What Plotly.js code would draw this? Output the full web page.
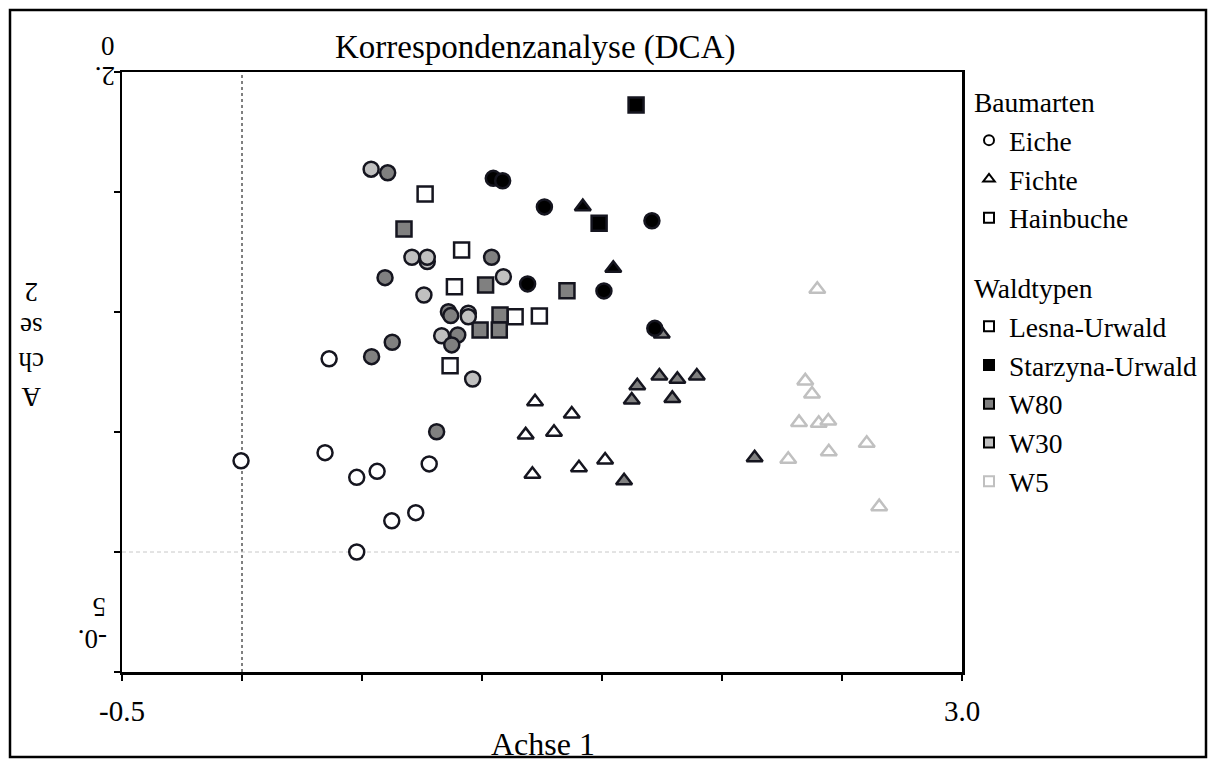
<!DOCTYPE html>
<html>
<head>
<meta charset="utf-8">
<script src="https://cdn.plot.ly/plotly-3.0.1.min.js"></script>
<style>
html,body{margin:0;padding:0;background:#fff;}
#chart{width:1216px;height:767px;}
#chart text{font-family:"Liberation Serif","Times New Roman","DejaVu Serif",serif !important;}
</style>
</head>
<body>
<div id="chart"></div>
<script>
// ---- Data (DCA scores: Achse 1 / Achse 2) ----
// Eiche (circles)
const eicheLesnaX = [-0.004, 0.346, 0.478, 0.563, 0.780, 0.624, 0.724, 0.478, 0.363];
const eicheLesnaY = [0.380, 0.414, 0.311, 0.336, 0.367, 0.130, 0.164, 0.000, 0.805];
const eicheStarzynaX = [1.047, 1.086, 1.260, 1.708, 1.190, 1.508, 1.720];
const eicheStarzynaY = [1.557, 1.547, 1.438, 1.380, 1.117, 1.088, 0.932];
const eicheW80X = [0.607, 1.040, 0.596, 0.860, 0.870, 0.899, 0.874, 0.626, 0.540, 0.811];
const eicheW80Y = [1.580, 1.228, 1.143, 1.001, 0.985, 0.904, 0.863, 0.874, 0.814, 0.501];
const eicheW30X = [0.538, 0.708, 0.772, 0.772, 1.089, 0.758, 0.943, 0.943, 0.832, 0.961];
const eicheW30Y = [1.595, 1.228, 1.210, 1.228, 1.147, 1.071, 0.995, 0.980, 0.901, 0.721];
// Fichte (triangles)
const fichteLesnaX = [1.221, 1.374, 1.182, 1.300, 1.210, 1.404, 1.513];
const fichteLesnaY = [0.626, 0.575, 0.488, 0.499, 0.324, 0.351, 0.383];
const fichteStarzynaX = [1.420, 1.547];
const fichteStarzynaY = [1.439, 1.182];
const fichteW80X = [1.749, 1.647, 1.739, 1.814, 1.895, 1.624, 1.793, 1.592, 2.136];
const fichteW80Y = [0.908, 0.693, 0.733, 0.720, 0.733, 0.633, 0.640, 0.297, 0.393];
const fichteW5X = [2.397, 2.347, 2.375, 2.321, 2.403, 2.443, 2.603, 2.445, 2.276, 2.655];
const fichteW5Y = [1.095, 0.713, 0.658, 0.540, 0.536, 0.546, 0.453, 0.418, 0.386, 0.189];
// Hainbuche (squares)
const hainLesnaX = [0.763, 0.915, 0.885, 1.138, 1.239, 0.867];
const hainLesnaY = [1.492, 1.258, 1.105, 0.980, 0.983, 0.776];
const hainStarzynaX = [1.642, 1.488];
const hainStarzynaY = [1.863, 1.370];
const hainW80X = [0.675, 1.015, 1.354, 1.075, 0.992, 1.072];
const hainW80Y = [1.346, 1.113, 1.089, 0.988, 0.925, 0.925];

// Legend labels / axis ticks
const baumarten = ["Eiche", "Fichte", "Hainbuche"];
const waldtypen = ["Lesna-Urwald", "Starzyna-Urwald", "W80", "W30", "W5"];
const xTickVals = [-0.5, 0, 0.5, 1.0, 1.5, 2.0, 2.5, 3.0];
const xTickText = ["-0.5", "", "", "", "", "", "", "3.0"];
const yTickVals = [-0.5, 0, 0.5, 1.0, 1.5, 2.0];

// ---- Styles ----
const EDGE = "#15151f";
const FILL = {"Lesna-Urwald": "#ffffff", "Starzyna-Urwald": "#000000", "W80": "#808080", "W30": "#c0c0c0", "W5": "#ffffff"};
const LINEC = {"Lesna-Urwald": EDGE, "Starzyna-Urwald": EDGE, "W80": EDGE, "W30": EDGE, "W5": "#c0c0c0"};
const SYM = {"Eiche": "circle", "Fichte": "triangle-up", "Hainbuche": "square"};
const SIZE = {"Eiche": 15, "Fichte": 14, "Hainbuche": 15};
const FONT = "Liberation Serif";

function pts(x, y, art, typ) {
  return {
    type: "scatter", mode: "markers", x: x, y: y, showlegend: false, hoverinfo: "x+y",
    marker: {symbol: SYM[art], size: SIZE[art], color: FILL[typ], line: {color: LINEC[typ], width: 2.5}}
  };
}

const traces = [
  pts(eicheLesnaX, eicheLesnaY, "Eiche", "Lesna-Urwald"),
  pts(fichteLesnaX, fichteLesnaY, "Fichte", "Lesna-Urwald"),
  pts(fichteW5X, fichteW5Y, "Fichte", "W5"),
  pts(fichteW80X, fichteW80Y, "Fichte", "W80"),
  pts(hainLesnaX, hainLesnaY, "Hainbuche", "Lesna-Urwald"),
  pts(hainW80X, hainW80Y, "Hainbuche", "W80"),
  pts(eicheW30X, eicheW30Y, "Eiche", "W30"),
  pts(eicheW80X, eicheW80Y, "Eiche", "W80"),
  pts(eicheStarzynaX, eicheStarzynaY, "Eiche", "Starzyna-Urwald"),
  pts(fichteStarzynaX, fichteStarzynaY, "Fichte", "Starzyna-Urwald"),
  pts(hainStarzynaX, hainStarzynaY, "Hainbuche", "Starzyna-Urwald")
];

// Legend-only entries
baumarten.forEach((b, i) => {
  traces.push({
    type: "scatter", mode: "markers", x: [null], y: [null], name: b, legendgroup: "baum",
    legendgrouptitle: i === 0 ? {text: "Baumarten", font: {family: FONT, size: 27.5, color: "#000"}} : undefined,
    marker: {symbol: SYM[b], size: 10, color: "#ffffff", line: {color: "#000", width: 2}}
  });
});
waldtypen.forEach((w, i) => {
  traces.push({
    type: "scatter", mode: "markers", x: [null], y: [null], name: w, legendgroup: "wald",
    legendgrouptitle: i === 0 ? {text: "Waldtypen", font: {family: FONT, size: 27.5, color: "#000"}} : undefined,
    marker: {symbol: "square", size: 10, color: FILL[w], line: {color: w === "W5" ? "#c0c0c0" : "#000", width: 2}}
  });
});

const L = 122, R = 962, T = 72, B = 672;
const px = v => (v - L) / (R - L);
const py = v => (B - v) / (B - T);

const layout = {
  width: 1216, height: 767,
  margin: {l: L, r: 1216 - R, t: T, b: 767 - B},
  paper_bgcolor: "#fff", plot_bgcolor: "#fff",
  font: {family: FONT, color: "#000", size: 27},
  showlegend: true,
  legend: {
    x: px(969), y: py(77), xanchor: "left", yanchor: "top",
    font: {family: FONT, size: 27.5, color: "#000"},
    traceorder: "grouped", tracegroupgap: 31, itemwidth: 30,
    bgcolor: "rgba(0,0,0,0)", borderwidth: 0
  },
  xaxis: {
    range: [-0.5, 3.0], tickmode: "array", tickvals: xTickVals, ticktext: xTickText,
    ticks: "outside", ticklen: 6, tickwidth: 2, tickcolor: "#000",
    showline: true, linewidth: 2.5, linecolor: "#000", mirror: true,
    showgrid: false, zeroline: false, ticklabelstandoff: 6,
    tickfont: {family: FONT, size: 29, color: "#000"}
  },
  yaxis: {
    range: [-0.5, 2.0], tickmode: "array", tickvals: yTickVals, showticklabels: false,
    ticks: "outside", ticklen: 6, tickwidth: 2, tickcolor: "#000",
    showline: true, linewidth: 2.5, linecolor: "#000", mirror: true,
    showgrid: false, zeroline: false
  },
  shapes: [
    {type: "line", xref: "x", yref: "y", x0: 0, x1: 0, y0: -0.5, y1: 2.0, layer: "below",
     line: {color: "#000", width: 1, dash: "3px,3px"}},
    {type: "line", xref: "x", yref: "y", x0: -0.5, x1: 3.0, y0: 0, y1: 0, layer: "below",
     line: {color: "#c8c8c8", width: 1, dash: "4px,3px"}},
    {type: "rect", xref: "paper", yref: "paper", x0: px(10), x1: px(1206), y0: py(757), y1: py(10),
     line: {color: "#000", width: 2.5}, fillcolor: "rgba(0,0,0,0)"}
  ],
  annotations: [
    {text: "Korrespondenzanalyse (DCA)", xref: "paper", yref: "paper", x: px(535), y: py(48),
     showarrow: false, xanchor: "center", yanchor: "middle", font: {family: FONT, size: 33}},
    {text: "Achse 1", xref: "paper", yref: "paper", x: px(543), y: py(744),
     showarrow: false, xanchor: "center", yanchor: "middle", font: {family: FONT, size: 32}},
    {text: "A<br>ch<br>se<br>2", xref: "paper", yref: "paper", x: px(31), y: py(345), textangle: 180,
     showarrow: false, xanchor: "center", yanchor: "middle", font: {family: FONT, size: 27}},
    {text: "0", xref: "paper", yref: "paper", x: px(108), y: py(46),
     showarrow: false, xanchor: "center", yanchor: "middle", font: {family: FONT, size: 27}},
    {text: "2.", xref: "paper", yref: "paper", x: px(105), y: py(76), textangle: 180,
     showarrow: false, xanchor: "center", yanchor: "middle", font: {family: FONT, size: 27}},
    {text: "5", xref: "paper", yref: "paper", x: px(99), y: py(607), textangle: 180,
     showarrow: false, xanchor: "center", yanchor: "middle", font: {family: FONT, size: 27}},
    {text: "-0.", xref: "paper", yref: "paper", x: px(93), y: py(639), textangle: 180,
     showarrow: false, xanchor: "center", yanchor: "middle", font: {family: FONT, size: 27}}
  ]
};

Plotly.newPlot("chart", traces, layout, {displayModeBar: false, staticPlot: true});
</script>
</body>
</html>
